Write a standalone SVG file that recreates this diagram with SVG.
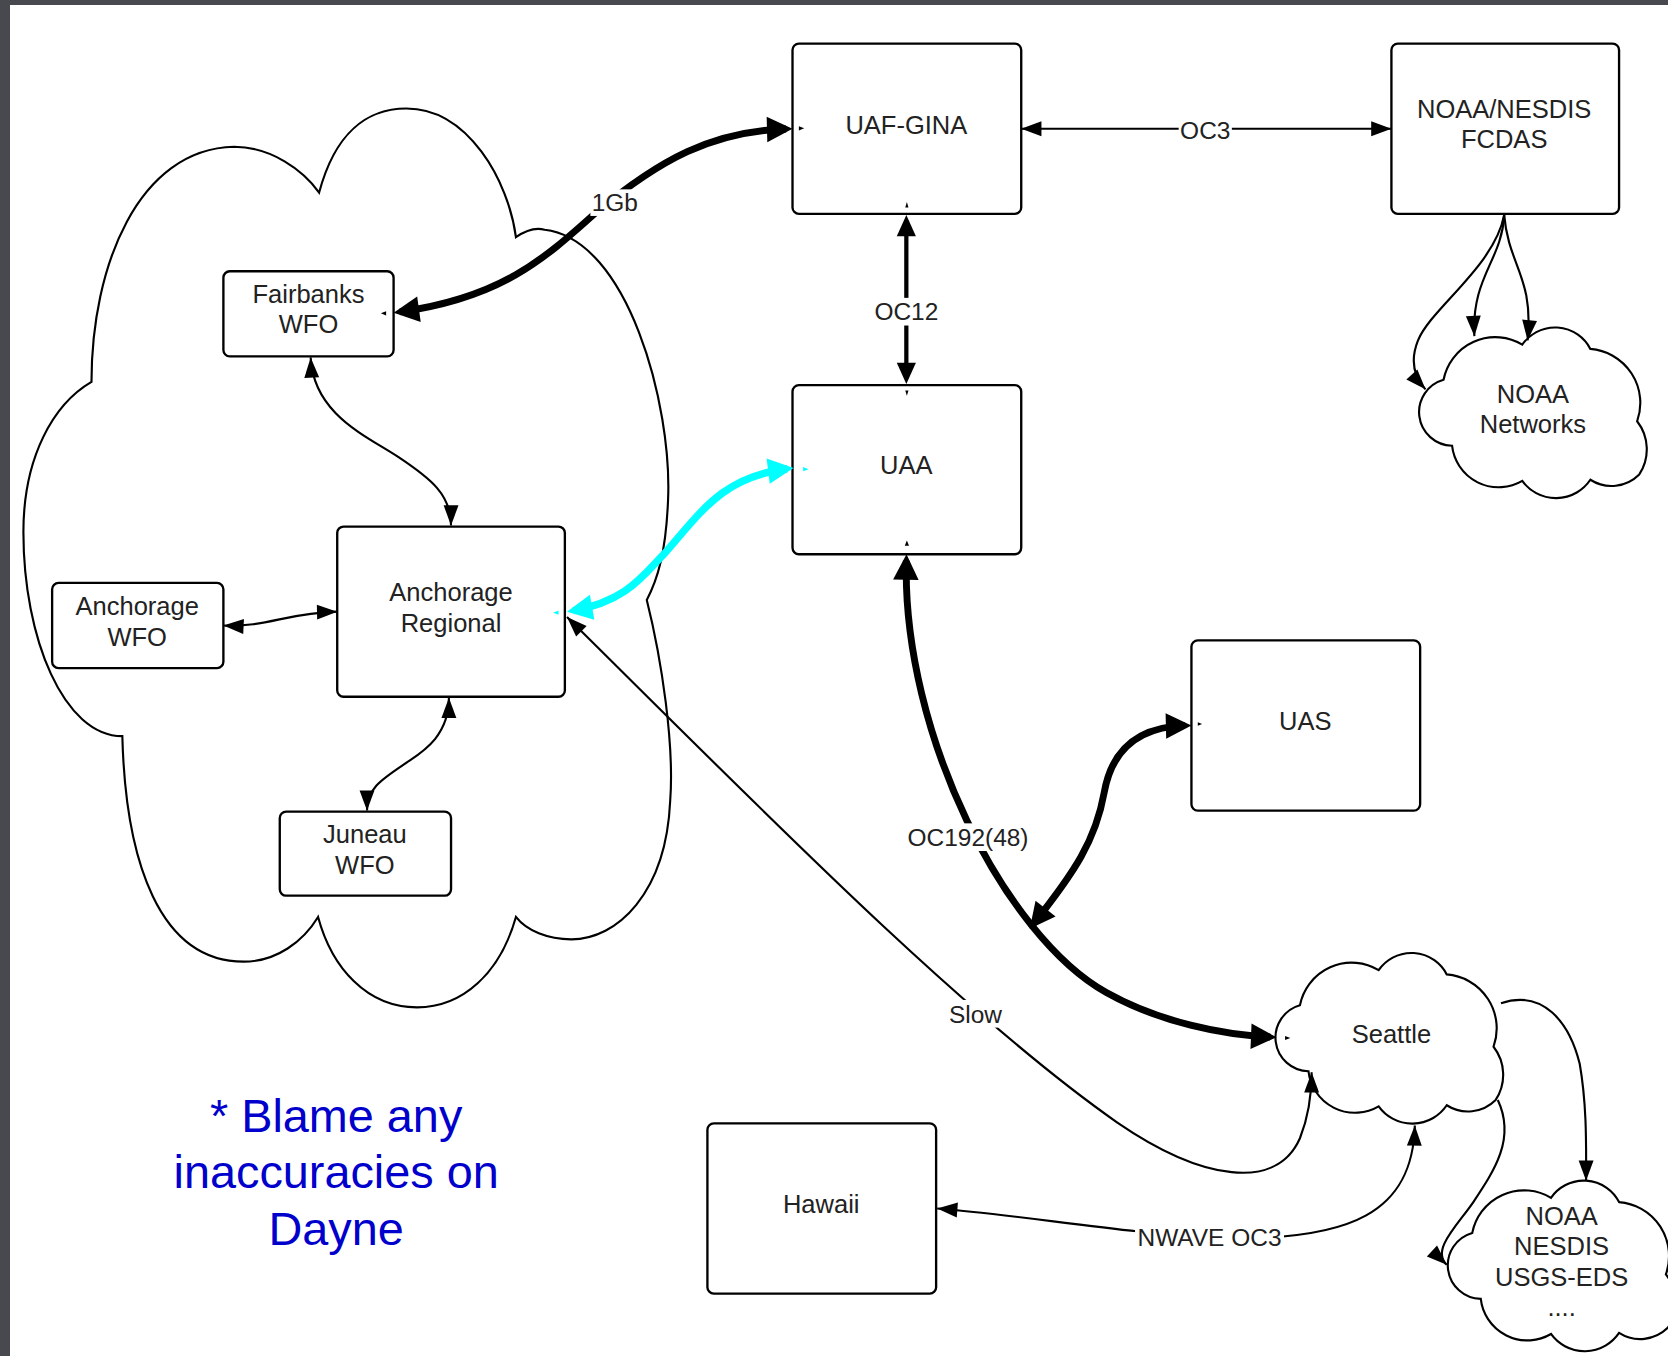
<svg xmlns="http://www.w3.org/2000/svg" width="1668" height="1356" viewBox="0 0 1668 1356">
<style>
.box{fill:#fff;stroke:#000;stroke-width:2.2}
.cloud{fill:#fff;stroke:#000;stroke-width:2}
.t{font-family:"Liberation Sans",Arial,sans-serif;font-size:24px;fill:#222;text-anchor:middle}
.el{font-family:"Liberation Sans",Arial,sans-serif;font-size:23px;fill:#222;text-anchor:middle}
.blue{font-family:"Liberation Sans",Arial,sans-serif;font-size:44px;fill:#0000cc;text-anchor:middle}
.bg{fill:#fff}
.c{fill:none;stroke:#000;stroke-width:2}
.both{marker-start:url(#mThin);marker-end:url(#mThin)}
.end{marker-end:url(#mThin)}
.big{fill:none;stroke:#000;stroke-width:6.5;marker-start:url(#mBig);marker-end:url(#mBig)}
.cyan{fill:none;stroke:#00ffff;stroke-width:7;marker-start:url(#mCyan);marker-end:url(#mCyan)}
.tick{fill:#000}
.tickc{fill:#00ffff}
.frame{fill:#48494f}
</style>
<defs>
<marker id="mThin" viewBox="-20 -8 21 16" refX="0" refY="0" markerWidth="21" markerHeight="16" markerUnits="userSpaceOnUse" orient="auto-start-reverse"><path d="M0,0 L-19,-7 L-19,7 Z" fill="#000"/></marker>
<marker id="mMid" viewBox="-21 -10 22 20" refX="-5" refY="0" markerWidth="22" markerHeight="20" markerUnits="userSpaceOnUse" orient="auto-start-reverse"><path d="M0,0 L-20,-9 L-20,9 Z" fill="#000"/></marker>
<marker id="mBig" viewBox="-25 -13 26 26" refX="-6" refY="0" markerWidth="26" markerHeight="26" markerUnits="userSpaceOnUse" orient="auto-start-reverse"><path d="M0,0 L-24,-12 L-24,12 Z" fill="#000"/></marker>
<marker id="mCyan" viewBox="-25 -13 26 26" refX="-6" refY="0" markerWidth="26" markerHeight="26" markerUnits="userSpaceOnUse" orient="auto-start-reverse"><path d="M0,0 L-24,-12 L-24,12 Z" fill="#00ffff"/></marker>
<path id="cloudShape" d="M23,49 A49.5,49.5 0 0 1 97,16 A37.4,37.4 0 0 1 161,20 A51,51 0 0 1 205,88 A43,43 0 0 1 207,138 A37,37 0 0 1 161,143 A39,39 0 0 1 97,144 A44,44 0 0 1 31,111 A31.6,31.6 0 0 1 23,49 Z"/>
</defs>
<rect width="1668" height="1356" fill="#fff"/>
<rect class="frame" x="0" y="0" width="1668" height="5"/>
<rect class="frame" x="0" y="0" width="10" height="1356"/>
<g transform="scale(1.063776)">
<g id="alaska-cloud">
<path class="cloud" d="M86,359 C86,250 130,140 220,138 C255,138 285,160 300,181 C315,125 345,102 382,102 C440,102 478,170 485,223 C495,216 505,214 512,216 C590,225 632,380 628,470 C626,520 618,545 608,564 C622,620 634,700 630,753 C626,840 580,883 537,883 C515,883 495,875 485,862 C470,915 435,947 392,947 C345,947 312,910 299,862 C285,885 260,904 229,904 C150,904 118,810 115,692 C60,692 22,600 22,500 C22,430 50,380 86,359 Z"/>
</g>
<g id="uaf-gina"><rect class="box" x="745" y="41" width="215" height="160" rx="6"/><text class="t" x="852" y="125.5">UAF-GINA</text></g>
<g id="noaa-nesdis-fcdas"><rect class="box" x="1308" y="41" width="214" height="160" rx="6"/><text class="t" x="1414" y="110.5">NOAA/NESDIS</text><text class="t" x="1414" y="139.5">FCDAS</text></g>
<g id="uaa"><rect class="box" x="745" y="362" width="215" height="159" rx="6"/><text class="t" x="852" y="445.5">UAA</text></g>
<g id="uas"><rect class="box" x="1120" y="602" width="215" height="160" rx="6"/><text class="t" x="1227" y="686.5">UAS</text></g>
<g id="hawaii"><rect class="box" x="665" y="1056" width="215" height="160" rx="6"/><text class="t" x="772" y="1140.5">Hawaii</text></g>
<g id="fairbanks-wfo"><rect class="box" x="210" y="255" width="160" height="80" rx="6"/><text class="t" x="290" y="284.5">Fairbanks</text><text class="t" x="290" y="313.5">WFO</text></g>
<g id="anchorage-regional"><rect class="box" x="317" y="495" width="214" height="160" rx="6"/><text class="t" x="424" y="564.5">Anchorage</text><text class="t" x="424" y="594.5">Regional</text></g>
<g id="anchorage-wfo"><rect class="box" x="49" y="548" width="161" height="80" rx="6"/><text class="t" x="129" y="578.5">Anchorage</text><text class="t" x="129" y="607.5">WFO</text></g>
<g id="juneau-wfo"><rect class="box" x="263" y="763" width="161" height="79" rx="6"/><text class="t" x="343" y="792.5">Juneau</text><text class="t" x="343" y="821.5">WFO</text></g>
<g id="noaa-networks"><use href="#cloudShape" class="cloud" transform="translate(1334,308)"/><text class="t" x="1441" y="378.5">NOAA</text><text class="t" x="1441" y="407.5">Networks</text></g>
<g id="seattle"><use href="#cloudShape" class="cloud" transform="translate(1199,896)"/><text class="t" x="1308" y="980.5">Seattle</text></g>
<g id="noaa-nesdis-usgs"><use href="#cloudShape" class="cloud" transform="translate(1361,1110)"/><text class="t" x="1468" y="1151.5">NOAA</text><text class="t" x="1468" y="1180">NESDIS</text><text class="t" x="1468" y="1208.5">USGS-EDS</text><text class="t" x="1468" y="1237">....</text></g>
<g id="note"><text class="blue" x="316" y="1064">* Blame any</text><text class="blue" x="316" y="1117">inaccuracies on</text><text class="blue" x="316" y="1170">Dayne</text></g>
<g id="connectors">
<path class="big" d="M376,293.2 C470,280 510,245 560,200 C620,150 670,123 739,121.2"/>
<path class="c both" d="M960,121 L1308,121"/>
<path fill="none" stroke="#000" stroke-width="4" marker-start="url(#mMid)" marker-end="url(#mMid)" d="M852,207 L852,356"/>
<path class="cyan" d="M538.9,574 C590,565 605,540 625,520 C660,480 680,448 740,440.7"/>
<path class="big" d="M852,527 C848,690 945,880 1040,933 C1090,961 1150,973 1194,974.8"/>
<path class="big" stroke-width="4.5" d="M971.7,868.3 C1010,820 1030,790 1038,745 C1046,700 1075,683 1114,682.1"/>
<path class="c both" d="M292,336 C295,390 345,410 375,430 C405,450 424,465 424,494"/>
<path class="c both" d="M210,588 C250,590 270,576 317,575"/>
<path class="c both" d="M422,656 C422,690 400,705 385,715 C360,732 345,740 345,762"/>
<path class="c both" stroke-width="1.6" d="M533,580 C700,745 900,950 1050,1055 C1130,1110 1200,1120 1222,1070 C1230,1050 1233,1030 1233,1008"/>
<path class="c both" d="M881,1136 C960,1142 1060,1160 1150,1164 C1270,1166 1328,1140 1330,1058"/>
<path class="c end" d="M1414,202 C1405,250 1345,290 1333,320 C1325,340 1330,355 1340,366"/>
<path class="c end" d="M1414,202 C1412,245 1383,260 1386,316"/>
<path class="c end" d="M1414,202 C1418,250 1442,260 1436,320"/>
<path class="c end" d="M1411,943 C1450,930 1475,960 1485,1000 C1492,1040 1491,1080 1491,1110"/>
<path class="c end" d="M1408,1034 C1425,1070 1405,1100 1385,1130 C1370,1152 1345,1175 1360,1189"/>
<polygon class="tick" points="358,294.5 363,292.5 363,296.5"/>
<polygon class="tick" points="756,120.6 751,118.6 751,122.6"/>
<polygon class="tick" points="852.5,190 851,195 854,195"/>
<polygon class="tick" points="852.5,372 851,367 854,367"/>
<polygon class="tick" points="852.5,508 850.5,513 854.5,513"/>
<polygon class="tick" points="1130,680.6 1126,679 1126,682.2"/>
<polygon class="tick" points="1213,975.8 1208,974 1208,977.6"/>
<polygon class="tickc" points="520,576 525,574 525,578"/>
<polygon class="tickc" points="760,441 755,439 755,443"/>
<rect class="bg" x="555" y="178" width="46" height="25"/><text class="el" x="578" y="198.2">1Gb</text>
<rect class="bg" x="1108" y="109" width="50" height="26"/><text class="el" x="1133" y="130.2">OC3</text>
<rect class="bg" x="821" y="280" width="62" height="26"/><text class="el" x="852" y="301.2">OC12</text>
<rect class="bg" x="853" y="774" width="114" height="26"/><text class="el" x="910" y="795.2">OC192(48)</text>
<rect class="bg" x="891" y="940" width="52" height="26"/><text class="el" x="917" y="961.2">Slow</text>
<rect class="bg" x="1067" y="1150" width="140" height="26"/><text class="el" x="1137" y="1171.2">NWAVE OC3</text>
</g>
</g>
</svg>
